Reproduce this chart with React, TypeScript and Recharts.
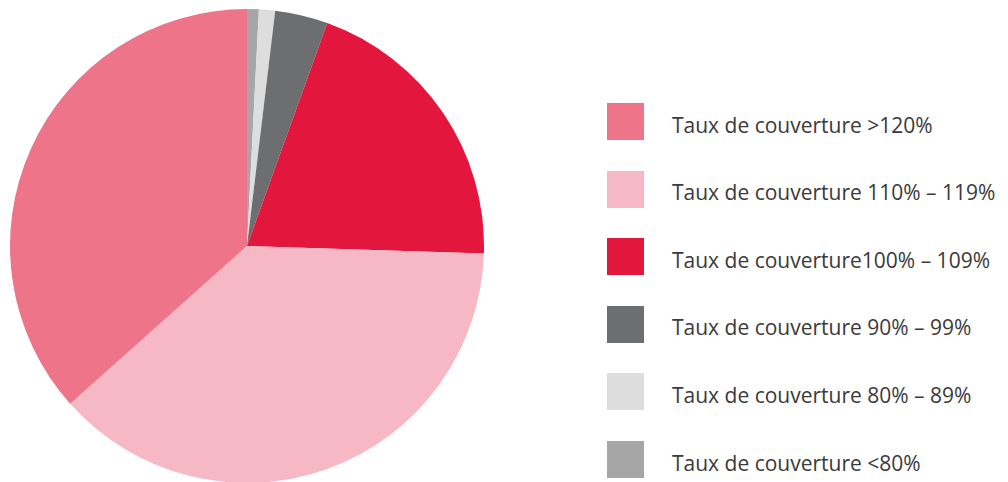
import { PieChart, Pie, Cell } from "recharts";

// clockwise from 12 o'clock
const categories = [
  "Taux de couverture <80%",
  "Taux de couverture 80% – 89%",
  "Taux de couverture 90% – 99%",
  "Taux de couverture100% – 109%",
  "Taux de couverture 110% – 119%",
  "Taux de couverture >120%",
];
const shares = [0.8, 1.1, 3.6, 20.0, 37.9, 36.6];
const colors = ["#A5A6A5", "#DCDDDC", "#6D6E70", "#E3173E", "#F5B8C4", "#ED7489"];

const data = categories.map((name, i) => ({ name, value: shares[i] }));
// legend goes top to bottom in the opposite order
const legendOrder = [5, 4, 3, 2, 1, 0];

export default function App() {
  return (
    <div style={{ position: "absolute", left: 0, top: 0, width: 1008, height: 482, background: "#fff", overflow: "hidden" }}>
      <PieChart width={1008} height={482} margin={{ top: 0, right: 0, bottom: 0, left: 0 }}>
        <Pie
          data={data}
          dataKey="value"
          nameKey="name"
          cx={247}
          cy={246}
          outerRadius={237}
          startAngle={90}
          endAngle={-270}
          stroke="none"
          isAnimationActive={false}
        >
          {data.map((d, i) => (
            <Cell key={d.name} fill={colors[i]} />
          ))}
        </Pie>
      </PieChart>
      {legendOrder.map((idx, row) => (
        <div
          key={idx}
          style={{
            position: "absolute",
            left: 607,
            top: 103 + row * 67.6,
            height: 37,
            display: "flex",
            alignItems: "center",
            fontFamily: "'Open Sans', sans-serif",
            fontSize: 21,
            color: "#3a3a3a",
            whiteSpace: "nowrap",
          }}
        >
          <div style={{ width: 37, height: 37, background: colors[idx], marginRight: 28 }} />
          <span style={{ position: "relative", top: 3 }}>{categories[idx]}</span>
        </div>
      ))}
    </div>
  );
}
